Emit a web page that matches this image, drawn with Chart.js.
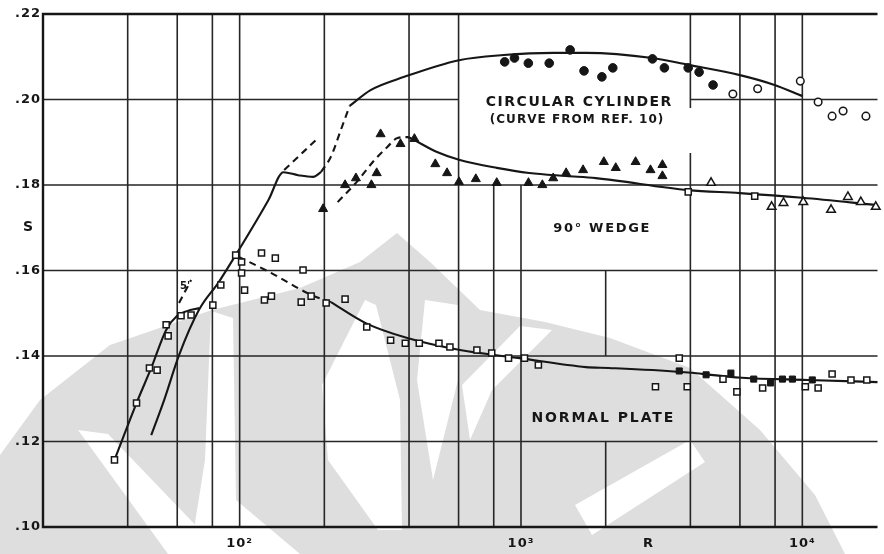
<!DOCTYPE html>
<html>
<head>
<meta charset="utf-8">
<script src="https://cdn.jsdelivr.net/npm/chart.js@4/dist/chart.umd.min.js"></script>
<style>
  html, body { margin: 0; padding: 0; background: #fff; }
  #wrap { width: 884px; height: 554px; position: relative; }
</style>
</head>
<body>
<div id="wrap"><canvas id="c" width="884" height="554"></canvas></div>
<script>
// Strouhal number S against Reynolds number R for three bluff bodies.

// ---- Circular cylinder ----
const cylR = [875, 948, 1062, 1260, 1495, 1675, 1939, 2120, 2933, 3234, 3929, 4296, 4816];
const cylS = [.2088, .2097, .2085, .2085, .2116, .2067, .2053, .2074, .2095, .2074, .2074, .2064, .2034];
const cylOpenR = [5664, 6937, 9836, 11380, 12760, 13960, 16830];
const cylOpenS = [.2013, .2025, .2043, .1994, .1961, .1973, .1961];
// curve taken from Ref. 10
const cylCurveR = [246, 292, 385, 602, 867, 1302, 1702, 2933, 3929, 5998, 7962, 10000];
const cylCurveS = [.1985, .2022, .2053, .2092, .2104, .2109, .2109, .2097, .2081, .2057, .2034, .2008];
const cylRiseR = [194.5, 211, 229, 246];
const cylRiseS = [.1830, .1866, .1929, .1985];

// ---- 90 degree wedge ----
const wedgeR = [198, 237, 259, 294, 307, 317, 373, 418, 496, 546, 602, 691, 820, 1063, 1191, 1302, 1447, 1662, 1970, 2172, 2555, 2886, 3182, 3182];
const wedgeS = [.1744, .1800, .1816, .1800, .1828, .1919, .1896, .1908, .1849, .1828, .1807, .1814, .1805, .1805, .1800, .1816, .1828, .1835, .1854, .1840, .1854, .1835, .1847, .1821];
const wedgeOpenR = [4738, 7777, 8570, 10080, 12650, 14520, 16140, 18240];
const wedgeOpenS = [.1805, .1749, .1758, .1760, .1742, .1772, .1760, .1749];
const wedgeBoxR = [3930, 6772];
const wedgeBoxS = [.1784, .1774];
const wedgeRiseR = [223, 259, 302, 335, 364, 395, 418];
const wedgeRiseS = [.1760, .1805, .1859, .1889, .1910, .1912, .1905];
const wedgeCurveR = [418, 503, 602, 820, 1071, 1447, 1846, 3930, 5998, 10000, 18500];
const wedgeCurveS = [.1905, .1877, .1859, .1840, .1828, .1821, .1816, .1788, .1781, .1770, .1753];

// ---- Normal plate ----
const plateR = [35.9, 43.0, 47.8, 50.9, 54.8, 55.7, 61.9, 67.2, 80.3, 85.7, 96.8, 101.6, 101.6, 104.1, 119.6, 133.9, 122.5, 129.7,
                168, 165.5, 179.5, 203, 237, 283, 344, 388, 435, 511, 559, 697, 787, 903, 1029, 1153,
                3652, 3006, 3898, 5224, 5852, 7226, 10250, 11380, 12760, 14890, 16950];
const plateS = [.1157, .1290, .1372, .1367, .1473, .1447, .1494, .1496, .1519, .1566, .1636, .1620, .1594, .1554, .1641, .1629, .1531, .1540,
                .1601, .1526, .1540, .1524, .1533, .1468, .1437, .1430, .1430, .1430, .1421, .1414, .1407, .1395, .1395, .1379,
                .1395, .1328, .1328, .1346, .1316, .1325, .1328, .1325, .1358, .1344, .1344];
const plateFillR = [3652, 4549, 5573, 6718, 7712, 8500, 9221, 10850];
const plateFillS = [.1365, .1356, .1360, .1346, .1337, .1346, .1346, .1344];
const plateDashR = [99.2, 129.7, 179.5, 211];
const plateDashS = [.1632, .1594, .1543, .1526];
const plateCurveR = [211, 280.5, 394.6, 607, 988, 1702, 2051, 3652, 6096, 10430, 18500];
const plateCurveS = [.1526, .1477, .1442, .1414, .1395, .1374, .1372, .1363, .1349, .1344, .1339];

// ---- low-R branches ----
const lowAR = [35.9, 43.0, 48.5, 54.8, 59.95, 65.0, 71.7];
const lowAS = [.1157, .1290, .1372, .1461, .1494, .1505, .1512];
const lowBR = [48.5, 53.9, 60.9, 71.7, 84.3, 96.8, 126.6, 143, 161.5, 182.5, 194.5];
const lowBS = [.1215, .1297, .1402, .1508, .1573, .1636, .1765, .1830, .1823, .1819, .1830];
const lowExtR = [144, 190];
const lowExtS = [.1835, .1910];
const primeR = [60.9, 67.2];
const primeS = [.1524, .1578];

// ---- axes ----
const xTickVals = [100, 1000, 2840, 10000];
const xTickText = ['10²', '10³', 'R', '10⁴'];
const yTickVals = [.10, .12, .14, .16, .18, .20, .22];
const yTickText = ['.10', '.12', '.14', '.16', '.18', '.20', '.22'];
const R_MIN = 20, R_MAX = 18500, S_MIN = .10, S_MAX = .22;

// grid: vertical rules at R (with optional S spans), horizontal rules at S (with optional R spans)
const gridV = [
  { r: 40 }, { r: 60 }, { r: 80 }, { r: 100 }, { r: 200 }, { r: 400 }, { r: 600 },
  { r: 800, spans: [[.10, .18]] }, { r: 1000, spans: [[.10, .18]] },
  { r: 2000, spans: [[.14, .16], [.10, .12]] },
  { r: 4000, spans: [[.10, .1875], [.198, .22]] },
  { r: 6000 }, { r: 8000 }, { r: 10000 }
];
const gridH = [
  { s: .12 }, { s: .14 }, { s: .16 }, { s: .18 },
  { s: .20, spans: [[R_MIN, 600], [4000, R_MAX]] }
];

// lettered captions: text stretched between two R values at height S
const captions = [
  { text: 'CIRCULAR CYLINDER', r0: 750, r1: 3422, s: .1994, size: 14 },
  { text: '(CURVE FROM REF. 10)', r0: 774, r1: 3207, s: .1952, size: 12 },
  { text: '90° WEDGE', r0: 1302, r1: 2862, s: .1697, size: 13 },
  { text: 'NORMAL PLATE', r0: 1089, r1: 3479, s: .1255, size: 14 }
];

// faint emblem printed behind the sheet (canvas pixels): one grey body, then paper-white cut-outs
const emblemBody = [[0, 455], [40, 400], [110, 345], [212, 310], [300, 288], [360, 262], [397, 233], [430, 262],
                    [480, 310], [545, 322], [610, 338], [690, 368], [760, 430], [815, 495], [845, 554], [0, 554]];
const emblemCuts = [
  [[78, 430], [108, 434], [205, 535], [190, 554], [168, 554]],
  [[211, 311], [233, 318], [236, 500], [300, 554], [190, 554], [205, 460]],
  [[365, 300], [376, 305], [400, 400], [402, 530], [378, 530], [328, 460], [322, 385]],
  [[425, 300], [458, 305], [458, 380], [433, 480], [417, 380]],
  [[520, 326], [552, 330], [492, 390], [470, 440], [462, 385]],
  [[575, 505], [690, 440], [705, 462], [592, 535]]
];

const INK = '#161616';
const FONT = 'DejaVu Sans';

const pts = (R, S) => R.map((r, i) => ({ x: r, y: S[i] }));

function marks(data, style, radius, fill) {
  return {
    data, showLine: false, order: 0, clip: false,
    pointStyle: style, pointRadius: radius, pointHoverRadius: radius,
    pointBackgroundColor: fill ? INK : '#fff', pointBorderColor: INK,
    pointBorderWidth: fill ? 1 : 1.5
  };
}
function curve(data, dashed) {
  return {
    data, showLine: true, order: 1, clip: false,
    pointRadius: 0, pointHoverRadius: 0,
    borderColor: INK, borderWidth: 2.1,
    borderDash: dashed ? [7, 5] : [],
    cubicInterpolationMode: 'monotone', tension: 0.4,
    fill: false
  };
}

function polygon(ctx, p) {
  ctx.beginPath();
  ctx.moveTo(p[0][0], p[0][1]);
  for (let i = 1; i < p.length; i++) ctx.lineTo(p[i][0], p[i][1]);
  ctx.closePath();
  ctx.fill();
}

const paper = {
  id: 'paper',
  beforeDraw(chart) {
    const ctx = chart.ctx;
    ctx.save();
    ctx.fillStyle = '#fff';
    ctx.fillRect(0, 0, chart.width, chart.height);
    ctx.fillStyle = '#dedede';
    polygon(ctx, emblemBody);
    ctx.fillStyle = '#fff';
    emblemCuts.forEach(c => polygon(ctx, c));
    ctx.restore();
    ctx.letterSpacing = '1px';
  },
  beforeDatasetsDraw(chart) {
    const ctx = chart.ctx, x = chart.scales.x, y = chart.scales.y;
    ctx.save();
    ctx.letterSpacing = '0px';
    ctx.strokeStyle = '#262626';
    ctx.lineWidth = 1.6;
    ctx.beginPath();
    gridV.forEach(g => {
      const px = x.getPixelForValue(g.r);
      (g.spans || [[S_MIN, S_MAX]]).forEach(([a, b]) => {
        ctx.moveTo(px, y.getPixelForValue(a));
        ctx.lineTo(px, y.getPixelForValue(b));
      });
    });
    gridH.forEach(g => {
      const py = y.getPixelForValue(g.s);
      (g.spans || [[R_MIN, R_MAX]]).forEach(([a, b]) => {
        ctx.moveTo(x.getPixelForValue(a), py);
        ctx.lineTo(x.getPixelForValue(b), py);
      });
    });
    ctx.stroke();
    // frame: left, bottom, top
    ctx.strokeStyle = INK;
    ctx.lineWidth = 2.4;
    ctx.beginPath();
    const L = x.getPixelForValue(R_MIN), Rr = x.getPixelForValue(R_MAX);
    const T = y.getPixelForValue(S_MAX), B = y.getPixelForValue(S_MIN);
    ctx.moveTo(Rr, T); ctx.lineTo(L, T); ctx.lineTo(L, B); ctx.lineTo(Rr, B);
    ctx.stroke();
    ctx.restore();
  },
  afterDatasetsDraw(chart) {
    const ctx = chart.ctx, x = chart.scales.x, y = chart.scales.y;
    ctx.save();
    ctx.fillStyle = INK;
    ctx.textBaseline = 'middle';
    captions.forEach(c => {
      ctx.font = `bold ${c.size}px "${FONT}"`;
      ctx.letterSpacing = '0px';
      const target = x.getPixelForValue(c.r1) - x.getPixelForValue(c.r0);
      const w = ctx.measureText(c.text).width;
      const sp = (target - w) / (c.text.length - 1);
      ctx.letterSpacing = sp.toFixed(2) + 'px';
      ctx.textAlign = 'left';
      ctx.fillText(c.text, x.getPixelForValue(c.r0), y.getPixelForValue(c.s));
    });
    // small primed mark beside the short dashed branch
    ctx.letterSpacing = '0px';
    ctx.font = `bold 10px "${FONT}"`;
    ctx.textAlign = 'center';
    ctx.fillText("5'", x.getPixelForValue(64), y.getPixelForValue(.1562));
    // axis symbol S
    ctx.font = `bold 14px "${FONT}"`;
    ctx.fillText('S', x.getPixelForValue(R_MIN) - 15, y.getPixelForValue(.17));
    ctx.restore();
  }
};

new Chart(document.getElementById('c'), {
  type: 'scatter',
  data: {
    datasets: [
      marks(pts(cylR, cylS), 'circle', 4.3, true),
      marks(pts(cylOpenR, cylOpenS), 'circle', 3.8, false),
      marks(pts(wedgeR, wedgeS), 'triangle', 5.2, true),
      marks(pts(wedgeOpenR, wedgeOpenS), 'triangle', 5, false),
      marks(pts(wedgeBoxR, wedgeBoxS), 'rect', 4.3, false),
      marks(pts(plateR, plateS), 'rect', 4.3, false),
      marks(pts(plateFillR, plateFillS), 'rect', 4.3, true),
      curve(pts(cylCurveR, cylCurveS), false),
      curve(pts(cylRiseR, cylRiseS), true),
      curve(pts(wedgeRiseR, wedgeRiseS), true),
      curve(pts(wedgeCurveR, wedgeCurveS), false),
      curve(pts(plateDashR, plateDashS), true),
      curve(pts(plateCurveR, plateCurveS), false),
      curve(pts(lowAR, lowAS), false),
      curve(pts(lowBR, lowBS), false),
      curve(pts(lowExtR, lowExtS), true),
      curve(pts(primeR, primeS), true)
    ]
  },
  options: {
    responsive: false,
    animation: false,
    devicePixelRatio: 1,
    layout: { padding: { top: 14, right: 0, left: 0, bottom: 0 } },
    plugins: { legend: { display: false }, tooltip: { enabled: false } },
    events: [],
    scales: {
      x: {
        type: 'logarithmic', min: R_MIN, max: R_MAX,
        grid: { display: false, drawTicks: false }, border: { display: false },
        ticks: {
          autoSkip: false, maxRotation: 0, minRotation: 0, padding: 9, color: INK,
          font: { family: FONT, weight: 'bold', size: 13 },
          callback: v => { const i = xTickVals.indexOf(v); return i >= 0 ? xTickText[i] : ''; }
        },
        afterBuildTicks: s => { s.ticks = xTickVals.map(v => ({ value: v })); },
        afterFit: s => { s.height = 27; }
      },
      y: {
        type: 'linear', min: S_MIN, max: S_MAX,
        grid: { display: false, drawTicks: false }, border: { display: false },
        ticks: {
          autoSkip: false, padding: 2, color: INK,
          font: { family: FONT, weight: 'bold', size: 13 },
          callback: v => { const i = yTickVals.indexOf(v); return i >= 0 ? yTickText[i] : ''; }
        },
        afterBuildTicks: s => { s.ticks = yTickVals.map(v => ({ value: v })); },
        afterFit: s => { s.width = 43; }
      }
    }
  },
  plugins: [paper]
});
</script>
</body>
</html>
